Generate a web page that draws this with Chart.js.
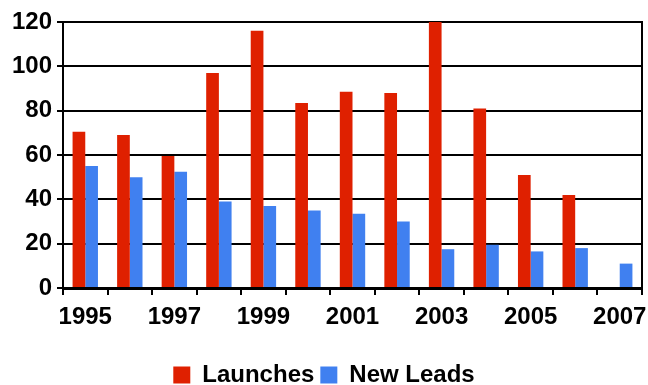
<!DOCTYPE html>
<html>
<head>
<meta charset="utf-8">
<script src="https://cdn.jsdelivr.net/npm/chart.js@4"></script>
<style>
  html, body { margin: 0; padding: 0; background: #fff; overflow: hidden; }
  #wrap { width: 648px; height: 397px; }
</style>
</head>
<body>
<div id="wrap"><canvas id="barChart"></canvas></div>
<script>
// values
const years = ["1995", "1996", "1997", "1998", "1999", "2000", "2001", "2002", "2003", "2004", "2005", "2006", "2007"];
const launches = [70.5, 69, 59.5, 97, 116, 83.5, 88.5, 88, 121, 81, 51, 42, 0];
const newLeads = [55, 50, 52.5, 39, 37, 35, 33.5, 30, 17.5, 19.5, 16.5, 18, 11];
const yTicks = [0, 20, 40, 60, 80, 100, 120];

const boldFont = { family: "'Liberation Sans', Arial, sans-serif", size: 24, weight: "bold" };

const ctx = document.getElementById("barChart").getContext("2d");
new Chart(ctx, {
  type: "bar",
  data: {
    labels: years,
    datasets: [
      {
        label: "Launches",
        data: launches,
        backgroundColor: "#df2000",
        categoryPercentage: 0.57,
        barPercentage: 1.0,
      },
      {
        label: "New Leads",
        data: newLeads,
        backgroundColor: "#4080f0",
        categoryPercentage: 0.57,
        barPercentage: 1.0,
      },
    ],
  },
  options: {
    responsive: true,
    maintainAspectRatio: false,
    animation: false,
    layout: { padding: { top: 22, right: 0, left: 0, bottom: 0 } },
    plugins: {
      legend: {
        position: "bottom",
        labels: {
          color: "#000",
          font: { family: "'Liberation Sans', Arial, sans-serif", size: 24, weight: "bold" },
          boxWidth: 17,
          boxHeight: 17,
          padding: 6,
        },
      },
      tooltip: { enabled: false },
    },
    scales: {
      x: {
        offset: true,
        afterFit: (scale) => {
          scale.height = 69;
          scale.paddingLeft = 0;
          scale.paddingRight = 0;
        },
        grid: { offset: true, drawOnChartArea: false, drawTicks: true, tickLength: 7, color: "#000", lineWidth: 2 },
        border: { display: true, color: "#000", width: 3 },
        ticks: {
          color: "#000",
          font: boldFont,
          autoSkip: false,
          maxRotation: 0,
          padding: 8,
          callback: function (value, index) {
            return index % 2 === 0 ? years[index] : "";
          },
        },
      },
      y: {
        min: 0,
        max: 120,
        afterFit: (scale) => { scale.width = 63; },
        afterBuildTicks: (axis) => { axis.ticks = yTicks.map((v) => ({ value: v })); },
        grid: { color: "#000", lineWidth: 2, tickLength: 6 },
        border: { display: true, color: "#000", width: 2 },
        ticks: { color: "#000", font: boldFont, padding: 5 },
      },
      yRight: {
        position: "right",
        min: 0,
        max: 120,
        afterFit: (scale) => { scale.width = 6; },
        grid: { drawOnChartArea: false, drawTicks: false },
        border: { display: true, color: "#000", width: 2 },
        ticks: { display: false },
      },
    },
  },
});
</script>
</body>
</html>
